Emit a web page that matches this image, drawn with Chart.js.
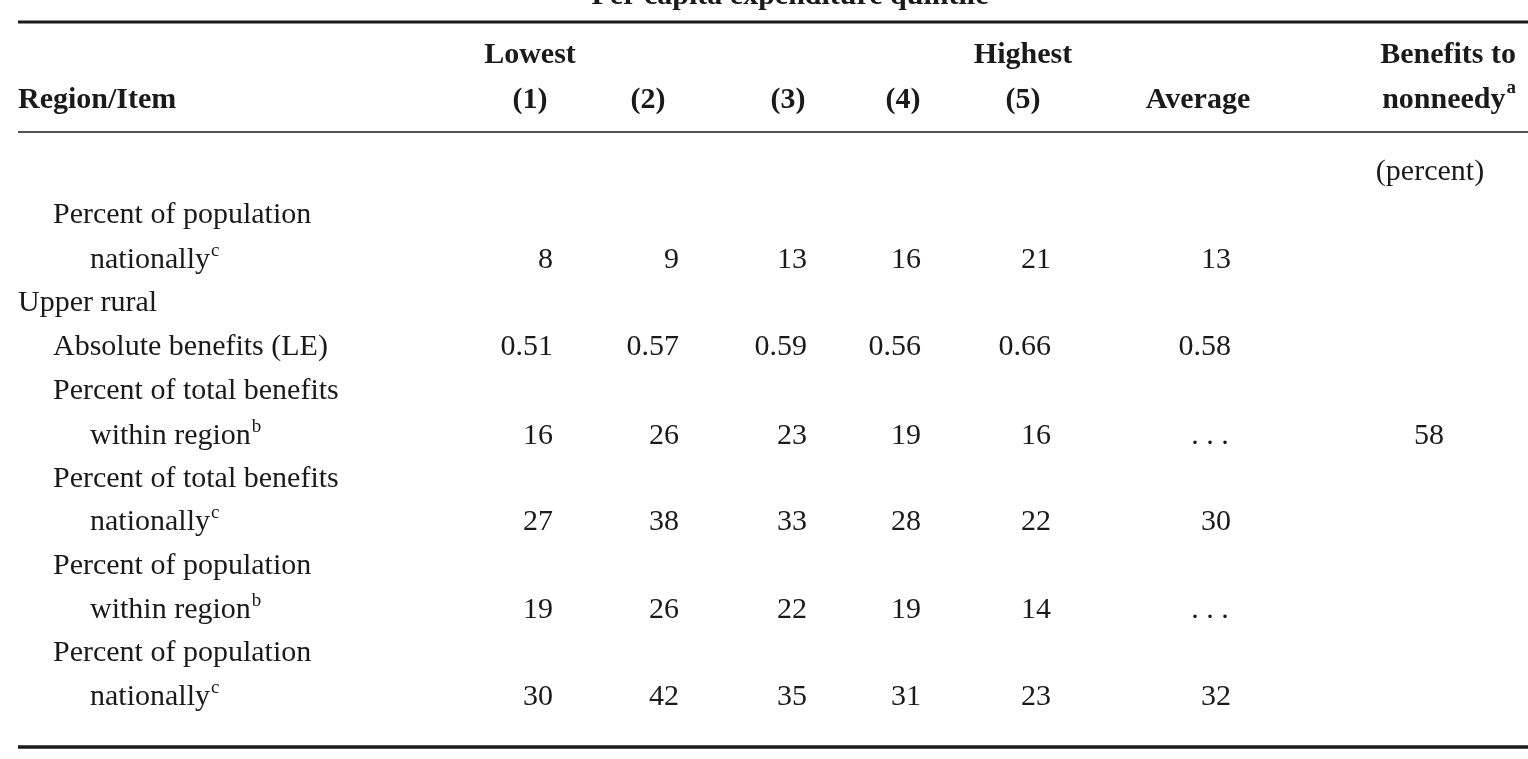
<!DOCTYPE html>
<html><head><meta charset="utf-8">
<script src="https://cdn.jsdelivr.net/npm/chart.js"></script>
<style>html,body{margin:0;padding:0;background:#fff}#w{width:1528px;height:759px}</style>
</head><body><div id="w"><canvas id="c"></canvas></div>
<script>
const columns = ["(1)","(2)","(3)","(4)","(5)","Average","Benefits to nonneedy"];
const topLabels = ["Lowest","","","","Highest","",""];
const rowLabels = [
  ["Percent of population","nationally","c"],
  ["Upper rural","",""],
  ["Absolute benefits (LE)","",""],
  ["Percent of total benefits","within region","b"],
  ["Percent of total benefits","nationally","c"],
  ["Percent of population","within region","b"],
  ["Percent of population","nationally","c"]
];
const rowValues = [
  ["8","9","13","16","21","13",""],
  ["","","","","","",""],
  ["0.51","0.57","0.59","0.56","0.66","0.58",""],
  ["16","26","23","19","16","...","58"],
  ["27","38","33","28","22","30",""],
  ["19","26","22","19","14","...",""],
  ["30","42","35","31","23","32",""]
];

// layout (pixel positions in the 1528x759 frame)
const L = {
  colRight:[553,679,807,921,1051,1231,1444],
  colCenter:[530,648,788,903,1023,1198,1430],
  rowY:[260,303,347,436,522,610,697],
  firstLineY:[215,null,null,391,479,566,653]
};
const F = "Liberation Serif, Times New Roman, serif";

const tablePlugin = {
  id:'table',
  afterDraw(chart){
    const ctx = chart.ctx, xs = chart.scales.x, ys = chart.scales.y;
    const X = v=>xs.getPixelForValue(v), Y = v=>ys.getPixelForValue(v);
    ctx.save();
    ctx.fillStyle = '#1a1a1a'; ctx.strokeStyle='#1a1a1a';
    ctx.textBaseline = 'middle';
    const line=(y,w)=>{ctx.lineWidth=w;ctx.beginPath();ctx.moveTo(X(18),Y(y));ctx.lineTo(X(1528),Y(y));ctx.stroke();};
    line(22,3); line(132,1.5); line(747,3.5);
    // spanner header (cropped at top)
    ctx.font = 'bold 30px '+F; ctx.textAlign='center';
    ctx.fillText('Per capita expenditure quintile', X(790), Y(-4));
    // headers
    ctx.textAlign='left'; ctx.fillText('Region/Item', X(18), Y(100));
    ctx.textAlign='center';
    columns.forEach((c,i)=>{
      if(i<5){ if(topLabels[i]) ctx.fillText(topLabels[i], X(L.colCenter[i]), Y(55)); ctx.fillText(c, X(L.colCenter[i]), Y(100)); }
      else if(i===5){ ctx.fillText(c, X(L.colCenter[i]), Y(100)); }
    });
    ctx.textAlign='right';
    ctx.fillText('Benefits to', X(1516), Y(55));
    ctx.font='bold 19px '+F; ctx.fillText('a', X(1516), Y(88));
    const wa = ctx.measureText('a').width;
    ctx.font='bold 30px '+F; ctx.fillText('nonneedy', X(1516)-wa-1, Y(100));
    // (percent)
    ctx.font='30px '+F; ctx.textAlign='center';
    ctx.fillText('(percent)', X(1430), Y(172));
    // rows
    rowLabels.forEach((r,i)=>{
      ctx.textAlign='left'; ctx.font='30px '+F;
      const y = Y(L.rowY[i]);
      if(r[1]===''){
        ctx.fillText(r[0], X(i===1?18:53), y);
      } else {
        ctx.fillText(r[0], X(53), Y(L.firstLineY[i]));
        ctx.fillText(r[1], X(90), y);
        const w = ctx.measureText(r[1]).width;
        ctx.font='19px '+F; ctx.fillText(r[2], X(90)+w+1, y-9);
        ctx.font='30px '+F;
      }
      rowValues[i].forEach((v,j)=>{
        if(!v) return;
        if(v==='...'){ ctx.textAlign='center'; ctx.fillText('. . .', X(L.colCenter[j]+12), y); }
        else { ctx.textAlign='right'; ctx.fillText(v, X(L.colRight[j]), y); }
      });
    });
    ctx.restore();
  }
};

new Chart(document.getElementById('c'),{
  type:'scatter',
  data:{datasets:[{data:[],pointRadius:0}]},
  options:{responsive:true,maintainAspectRatio:false,animation:false,
    layout:{padding:0},
    plugins:{legend:{display:false},tooltip:{enabled:false}},
    scales:{x:{type:'linear',min:0,max:1528,display:false},
            y:{type:'linear',min:0,max:759,reverse:true,display:false}}},
  plugins:[tablePlugin]
});
</script></body></html>
